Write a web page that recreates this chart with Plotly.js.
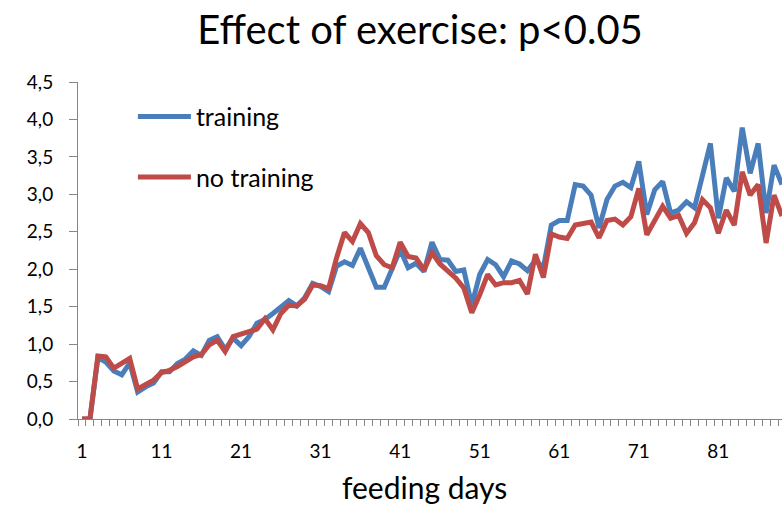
<!DOCTYPE html>
<html>
<head>
<meta charset="utf-8">
<script src="https://cdn.plot.ly/plotly-3.0.1.min.js"></script>
<style>html,body{margin:0;padding:0;background:#fff;}#chart{width:782px;height:505px;}</style>
</head>
<body>
<div id="chart"></div>
<script>
const days = [];
for (let d = 1; d <= 89; d++) days.push(d);

const training = [
  0, 0, 0.82, 0.76, 0.64, 0.59, 0.75, 0.36, 0.43, 0.48,
  0.63, 0.63, 0.74, 0.80, 0.91, 0.85, 1.05, 1.10, 0.93, 1.08,
  0.98, 1.10, 1.28, 1.33, 1.41, 1.50, 1.58, 1.51, 1.62, 1.81,
  1.77, 1.70, 2.04, 2.10, 2.05, 2.28, 2.04, 1.76, 1.76, 1.99,
  2.26, 2.02, 2.08, 1.97, 2.36, 2.13, 2.12, 1.97, 1.99, 1.52,
  1.93, 2.13, 2.06, 1.90, 2.11, 2.07, 1.98, 2.12, 2.02, 2.59,
  2.65, 2.65, 3.13, 3.11, 2.99, 2.55, 2.93, 3.11, 3.16, 3.09,
  3.44, 2.73, 3.06, 3.17, 2.75, 2.79, 2.90, 2.82, 3.24, 3.68,
  2.68, 3.22, 3.04, 3.89, 3.28, 3.68, 2.75, 3.39, 3.13
];
const noTraining = [
  0, 0, 0.84, 0.83, 0.68, 0.74, 0.81, 0.40, 0.47, 0.52,
  0.62, 0.65, 0.70, 0.77, 0.83, 0.86, 0.99, 1.05, 0.90, 1.10,
  1.13, 1.16, 1.20, 1.34, 1.19, 1.41, 1.52, 1.51, 1.60, 1.79,
  1.78, 1.74, 2.15, 2.49, 2.37, 2.61, 2.49, 2.18, 2.06, 2.02,
  2.36, 2.17, 2.15, 1.99, 2.22, 2.07, 1.97, 1.88, 1.75, 1.42,
  1.66, 1.93, 1.79, 1.82, 1.82, 1.85, 1.67, 2.20, 1.89, 2.47,
  2.43, 2.41, 2.59, 2.61, 2.63, 2.42, 2.65, 2.67, 2.59, 2.70,
  3.08, 2.46, 2.64, 2.84, 2.68, 2.72, 2.48, 2.62, 2.93, 2.82,
  2.48, 2.79, 2.59, 3.30, 2.99, 3.13, 2.35, 2.99, 2.71
];
const seriesNames = ['training', 'no training'];
const yTickVals = [0, 0.5, 1, 1.5, 2, 2.5, 3, 3.5, 4, 4.5];
const xTickVals = [1, 11, 21, 31, 41, 51, 61, 71, 81];

const font = 'Lato, "Open Sans", sans-serif';
const axisColor = '#868686';

const traces = [
  {x: days, y: training, name: seriesNames[0], type: 'scatter', mode: 'lines',
   line: {color: '#4A7EBB', width: 5, shape: 'linear'}, legendgroup: 'a'},
  {x: days, y: noTraining, name: seriesNames[1], type: 'scatter', mode: 'lines',
   line: {color: '#BE4B48', width: 5, shape: 'linear'}, legendgroup: 'b'}
];

const layout = {
  width: 782, height: 505,
  margin: {l: 78, r: 0, t: 82, b: 86, pad: 0},
  paper_bgcolor: '#fff', plot_bgcolor: '#fff',
  separators: ', ',
  font: {family: font, size: 19, color: '#000'},
  title: {text: 'Effect of exercise: p&lt;0.05', font: {family: font, size: 40, color: '#000'},
          x: 420/782, xref: 'container', xanchor: 'center', y: 0.94, yref: 'container', yanchor: 'middle'},
  showlegend: true,
  legend: {x: 0.078, y: 0.965, xanchor: 'left', yanchor: 'top', bgcolor: 'rgba(0,0,0,0)',
           font: {family: font, size: 25, color: '#000'}, tracegroupgap: 25, itemwidth: 53},
  xaxis: {
    range: [0.5, 89.0], showgrid: false, zeroline: false,
    showline: true, linecolor: axisColor, linewidth: 1,
    tickmode: 'linear', tick0: 1, dtick: 10,
    ticks: 'outside', ticklen: 2, tickcolor: 'rgba(0,0,0,0)', ticklabelstandoff: 13,
    tickfont: {family: font, size: 19, color: '#000'},
    minor: {tickmode: 'linear', ticks: 'outside', ticklen: 6, tickcolor: axisColor, tickwidth: 1, tick0: 0.5, dtick: 1, showgrid: false}
  },
  yaxis: {
    range: [0, 4.5], showgrid: false, zeroline: false,
    showline: true, linecolor: axisColor, linewidth: 1,
    tickmode: 'array', tickvals: yTickVals, ticktext: yTickVals.map(v => v.toFixed(1).replace('.', ',')),
    ticks: 'outside', ticklen: 8, tickcolor: axisColor, tickwidth: 1, ticklabelstandoff: 12,
    tickfont: {family: font, size: 19, color: '#000'}
  },
  annotations: [{
    text: 'feeding days', xref: 'paper', yref: 'paper', x: (424-78)/704, y: (419-487)/337,
    xanchor: 'center', yanchor: 'middle', showarrow: false,
    font: {family: font, size: 30, color: '#000'}
  }]
};

Plotly.newPlot('chart', traces, layout, {displayModeBar: false, staticPlot: true});
</script>
</body>
</html>
